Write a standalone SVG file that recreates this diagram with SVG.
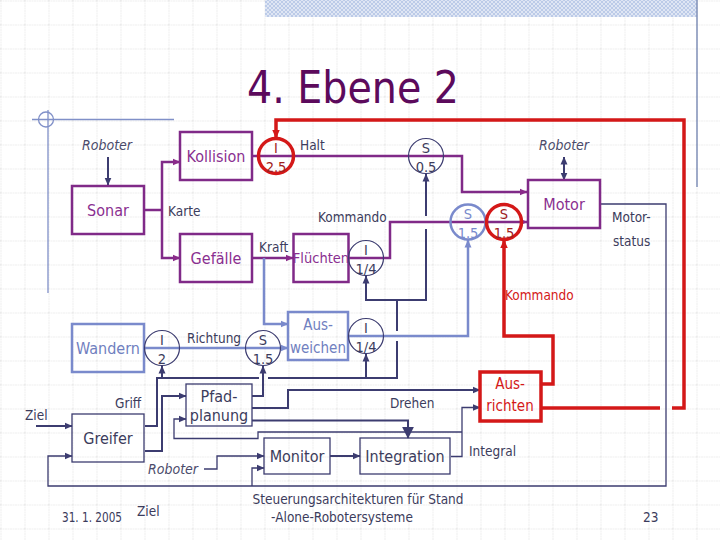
<svg xmlns="http://www.w3.org/2000/svg" width="720" height="540" viewBox="0 0 720 540">
<defs>
<pattern id="grid" width="24" height="24" patternUnits="userSpaceOnUse" x="0.5" y="0.5">
<path d="M0,0 H24 M0,0 V24" fill="none" stroke="#bdbdbd" stroke-width="1" stroke-dasharray="1,1.5"/>
</pattern>
<pattern id="hatch" width="4" height="4" patternUnits="userSpaceOnUse">
<rect width="4" height="4" fill="#dfe6f4"/>
<path d="M0,0 L4,4 M4,0 L0,4" stroke="#b4c4e4" stroke-width="0.8"/>
</pattern>
<marker id="an" viewBox="0 0 8 8" refX="7.5" refY="4" markerWidth="8" markerHeight="8" markerUnits="userSpaceOnUse" orient="auto-start-reverse"><path d="M0,0.5 L8,4 L0,7.5z" fill="#3c3c70"/></marker>
<marker id="anb" viewBox="0 0 8 8" refX="7.5" refY="4" markerWidth="12" markerHeight="12" markerUnits="userSpaceOnUse" orient="auto"><path d="M0,0 L8,4 L0,8z" fill="#3c3c70"/></marker>
<marker id="ap" viewBox="0 0 8 8" refX="7.5" refY="4" markerWidth="8" markerHeight="8" markerUnits="userSpaceOnUse" orient="auto"><path d="M0,0.5 L8,4 L0,7.5z" fill="#8a2a8a"/></marker>
<marker id="ab" viewBox="0 0 8 8" refX="7.5" refY="4" markerWidth="8" markerHeight="8" markerUnits="userSpaceOnUse" orient="auto"><path d="M0,0.5 L8,4 L0,7.5z" fill="#7a8acc"/></marker>
<marker id="ar" viewBox="0 0 8 8" refX="7.5" refY="4" markerWidth="9" markerHeight="9" markerUnits="userSpaceOnUse" orient="auto"><path d="M0,0.5 L8,4 L0,7.5z" fill="#d41818"/></marker>
</defs>
<style>
text{font-family:"DejaVu Sans Condensed","DejaVu Sans",sans-serif;font-stretch:condensed}
.bx{font-size:16px;text-anchor:middle}
.lb{font-size:13.5px;fill:#3c3c5c}
.it{font-size:14px;font-style:italic;fill:#4a4a6a;text-anchor:middle}
.ct{font-size:14.5px;text-anchor:middle}
.pb{fill:none;stroke:#802a88;stroke-width:2.5}
.bb{fill:none;stroke:#7a8acc;stroke-width:2.5}
.rb{fill:none;stroke:#d41818;stroke-width:3.5}
.nb{fill:none;stroke:#3c3c70;stroke-width:1.3}
.nl{fill:none;stroke:#3c3c70;stroke-width:2}
.nt{fill:none;stroke:#3c3c70;stroke-width:1.3}
.pl{fill:none;stroke:#802a88;stroke-width:2.5}
.bl{fill:none;stroke:#7a8acc;stroke-width:2.5}
.rl{fill:none;stroke:#d41818;stroke-width:3.5}
.ft{font-size:13.5px;fill:#3c3c5c}
</style>
<rect width="720" height="540" fill="#ffffff"/>
<rect width="720" height="540" fill="url(#grid)"/>
<rect x="265" y="0" width="432" height="17" fill="url(#hatch)"/>
<line x1="697" y1="0" x2="697" y2="187" stroke="#8090b8" stroke-width="1.5"/>
<g id="crosshair" fill="none" stroke="#8090c8" stroke-width="1.3">
<circle cx="46" cy="119.5" r="7.5"/>
<line x1="32" y1="119.5" x2="174" y2="119.5"/>
<line x1="48" y1="110" x2="48" y2="293"/>
</g>
<text x="353" y="103" fill="#5c0a5c" text-anchor="middle" style="font-size:44px">4. Ebene 2</text>

<g id="connectors">
<path class="pl" d="M144,210 H162"/>
<path class="pl" d="M162,210 V162 H180" marker-end="url(#ap)"/>
<path class="pl" d="M162,210 V258 H180" marker-end="url(#ap)"/>
<path class="pl" d="M252,156 H462 V192 H527" marker-end="url(#ap)"/>
<path class="pl" d="M252,258 H293" marker-end="url(#ap)"/>
<path class="pl" d="M348,258 H390 V222 H527" marker-end="url(#ap)"/>
<path class="bl" d="M264,258 V324 H288" marker-end="url(#ab)"/>
<path class="bl" d="M144,348 H288" marker-end="url(#ab)"/>
<path class="bl" d="M348,336 H468 V240" marker-end="url(#ab)"/>
<path class="rl" d="M541,408 H660"/>
<path class="rl" d="M672,408 H684 V120 H276 V138" marker-end="url(#ar)"/>
<path class="rl" d="M541,384 H553 V336 H504 V240" marker-end="url(#ar)"/>
<path class="nl" d="M108,157 V185" marker-end="url(#an)"/>
<path class="nl" d="M564,157 V180" marker-start="url(#an)" marker-end="url(#an)"/>
<path class="nl" d="M145,426 H157 V378 H259"/>
<path class="nl" d="M268,378 H397 V341"/>
<path class="nl" d="M397,331 V300 H426 V229"/>
<path class="nl" d="M426,216 V174" marker-end="url(#an)"/>
<path class="nl" d="M162,378 V366" marker-end="url(#an)"/>
<path class="nl" d="M366,378 V354" marker-end="url(#an)"/>
<path class="nl" d="M397,300 H366 V276" marker-end="url(#an)"/>
<path class="nl" d="M145,451 H162 V396 H186" marker-end="url(#an)"/>
<path class="nl" d="M252,396 H263 V366" marker-end="url(#an)"/>
<path class="nl" d="M252,408 H288 V390 H480" marker-end="url(#an)"/>
<path class="nl" d="M252,420.5 H408 V438" marker-end="url(#anb)"/>
<path class="nt" d="M451,456.5 H462 V407.5 H480" marker-end="url(#an)"/>
<path class="nt" d="M462,432 H258 V438.5 H174 V419 H186" marker-end="url(#an)"/>
<path class="nl" d="M330,456 H360" marker-end="url(#an)"/>
<path class="nt" d="M204,469 H217 V456 H264" marker-end="url(#an)"/>
<path class="nt" d="M600,204 H666 V486 H48 V456 H72" marker-end="url(#an)"/>
<path class="nt" d="M252,486 V468 H264" marker-end="url(#an)"/>
<path class="nl" d="M36,426 H72" marker-end="url(#an)"/>
</g>

<g id="sonar"><rect class="pb" x="72" y="186" width="72" height="48"/><text class="bx" x="108" y="216" fill="#8a2f90">Sonar</text></g>
<g id="kollision"><rect class="pb" x="180" y="132" width="72" height="48"/><text class="bx" x="216" y="162" fill="#8a2f90">Kollision</text></g>
<g id="gefaelle"><rect class="pb" x="180" y="234" width="72" height="48"/><text class="bx" x="216" y="264" fill="#8a2f90">Gefälle</text></g>
<g id="fluechten"><rect class="pb" x="293.5" y="234" width="55" height="48"/><text x="321" y="263" fill="#8a2f90" text-anchor="middle" style="font-size:14.5px">Flüchten</text></g>
<g id="motor"><rect class="pb" x="528" y="180" width="72" height="48"/><text class="bx" x="564" y="210" fill="#8a2f90">Motor</text></g>
<g id="wandern"><rect class="bb" x="72" y="324" width="72" height="48"/><text class="bx" x="108" y="354" fill="#7080c0">Wandern</text></g>
<g id="ausweichen"><rect class="bb" x="288" y="312" width="60" height="48"/><text x="318" y="330" fill="#7080c0" text-anchor="middle" style="font-size:15px">Aus-</text><text x="318" y="353" fill="#7080c0" text-anchor="middle" style="font-size:15px">weichen</text></g>
<g id="ausrichten"><rect class="rb" x="480" y="372" width="61" height="49"/><text x="510" y="389" fill="#d41818" text-anchor="middle" style="font-size:15px">Aus-</text><text x="510" y="411" fill="#d41818" text-anchor="middle" style="font-size:15px">richten</text></g>
<g id="greifer"><rect class="nb" x="72" y="414" width="72" height="48"/><text class="bx" x="108" y="444" fill="#3c3c5c">Greifer</text></g>
<g id="pfadplanung"><rect class="nb" x="186" y="384" width="66" height="42"/><text class="bx" x="219" y="402" fill="#3c3c5c">Pfad-</text><text class="bx" x="219" y="421" fill="#3c3c5c">planung</text></g>
<g id="monitor"><rect class="nb" x="264" y="438" width="66" height="36"/><text class="bx" x="297" y="462" fill="#3c3c5c">Monitor</text></g>
<g id="integration"><rect class="nb" x="360" y="438" width="90" height="36"/><text class="bx" x="405" y="462" fill="#3c3c5c">Integration</text></g>

<g id="i25"><circle cx="276" cy="156" r="17.5" fill="none" stroke="#d41818" stroke-width="3.5"/><text class="ct" x="276" y="153" fill="#a02020">I</text><text class="ct" x="276" y="172" fill="#a02020">2.5</text></g>
<g id="s05"><circle cx="426" cy="156" r="17.5" fill="none" stroke="#3c3c70" stroke-width="1.2"/><text class="ct" x="426" y="153" fill="#3c3c5c">S</text><text class="ct" x="426" y="172" fill="#3c3c5c">0.5</text></g>
<g id="i14a"><circle cx="366" cy="258" r="17.5" fill="none" stroke="#3c3c70" stroke-width="1.2"/><text class="ct" x="366" y="255" fill="#3c3c5c">I</text><text class="ct" x="366" y="274" fill="#3c3c5c">1/4</text></g>
<g id="s15b"><circle cx="468" cy="222" r="17.5" fill="none" stroke="#7a8acc" stroke-width="2.5"/><text class="ct" x="468" y="219" fill="#7a8acc">S</text><text class="ct" x="468" y="238" fill="#7a8acc">1.5</text></g>
<g id="s15r"><circle cx="504" cy="222" r="17.5" fill="none" stroke="#d41818" stroke-width="3.5"/><text class="ct" x="504" y="219" fill="#a02020">S</text><text class="ct" x="504" y="238" fill="#a02020">1.5</text></g>
<g id="i2"><circle cx="162" cy="348" r="17.5" fill="none" stroke="#3c3c70" stroke-width="1.2"/><text class="ct" x="162" y="345" fill="#3c3c5c">I</text><text class="ct" x="162" y="364" fill="#3c3c5c">2</text></g>
<g id="s15"><circle cx="263" cy="348" r="17.5" fill="none" stroke="#3c3c70" stroke-width="1.2"/><text class="ct" x="263" y="345" fill="#3c3c5c">S</text><text class="ct" x="263" y="364" fill="#3c3c5c">1.5</text></g>
<g id="i14b"><circle cx="366" cy="336" r="17.5" fill="none" stroke="#3c3c70" stroke-width="1.2"/><text class="ct" x="366" y="333" fill="#3c3c5c">I</text><text class="ct" x="366" y="352" fill="#3c3c5c">1/4</text></g>

<g id="labels">
<text class="it" x="107" y="150">Roboter</text>
<text class="it" x="564" y="150">Roboter</text>
<text class="it" x="173" y="474">Roboter</text>
<text class="lb" x="300" y="150">Halt</text>
<text class="lb" x="168" y="216">Karte</text>
<text class="lb" x="318" y="222">Kommando</text>
<text class="lb" x="259" y="252">Kraft</text>
<text class="lb" x="187" y="343">Richtung</text>
<text class="lb" x="115" y="408">Griff</text>
<text class="lb" x="25" y="420">Ziel</text>
<text class="lb" x="390" y="408">Drehen</text>
<text class="lb" x="469" y="456">Integral</text>
<text class="lb" x="612" y="222">Motor-</text>
<text class="lb" x="613" y="246">status</text>
<text class="lb" x="505" y="300" style="fill:#d41818">Kommando</text>
</g>
<g id="footer">
<text class="ft" x="62" y="522" textLength="60" lengthAdjust="spacingAndGlyphs">31. 1. 2005</text>
<text class="ft" x="137" y="516">Ziel</text>
<text class="ft" x="358" y="504" text-anchor="middle">Steuerungsarchitekturen für Stand</text>
<text class="ft" x="342" y="522" text-anchor="middle">-Alone-Robotersysteme</text>
<text class="ft" x="643" y="522">23</text>
</g>
</svg>
